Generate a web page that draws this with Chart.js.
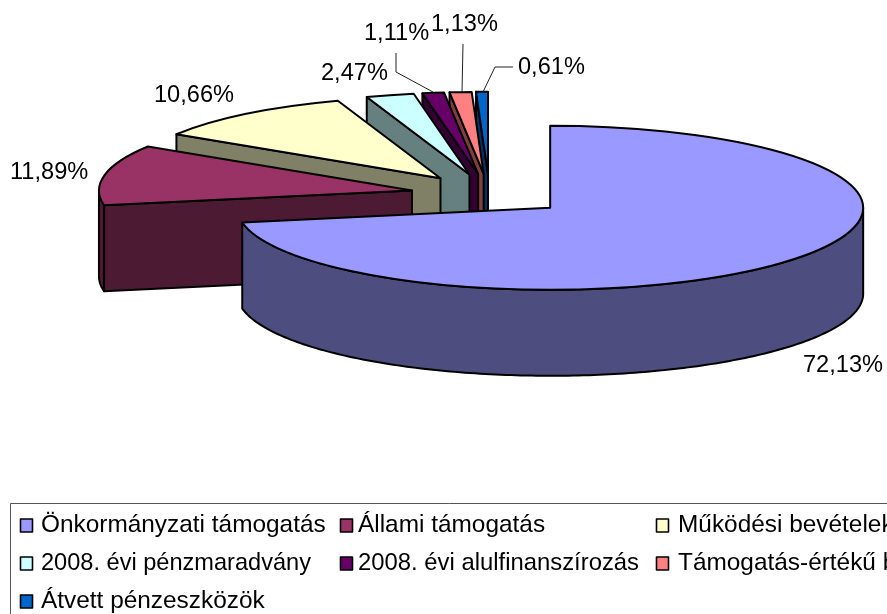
<!DOCTYPE html>
<html><head><meta charset="utf-8">
<style>html,body{margin:0;padding:0;background:#fff;overflow:hidden}canvas{display:block}</style>
<script src="https://cdn.jsdelivr.net/npm/chart.js@4"></script>
</head><body>
<canvas id="c" width="887" height="614"></canvas>
<script>
const categories = ["Önkormányzati támogatás","Állami támogatás","Működési bevételek","2008. évi pénzmaradvány","2008. évi alulfinanszírozás","Támogatás-értékű bevételek","Átvett pénzeszközök"];
const shares = [72.13,11.89,10.66,2.47,1.11,1.13,0.61];
const topColors = ["#9999FF","#993366","#FFFFCC","#CCFFFF","#660066","#FF8080","#0066CC"];
const wallColors = ["#4D4D80","#4D1A33","#808066","#668080","#330033","#804040","#003366"];

const FONT = '23.6px "Liberation Sans", Arial, sans-serif';
const LEGEND_FONT = '24.4px "Liberation Sans", Arial, sans-serif';
const SQUASH = 0.262, DEPTH = 86, EXPLODE = 79, RADIUS = 313;
const labelSpots = [[803,365],[10,172],[154,95],[321,73],[364,33],[431,24],[518,67]];
const leaders = [[[396,53],[396,72],[433,92]],[[463,44],[462,92]],[[513,67],[495,67],[483,92]]];
const legendCols = [[20,41],[340,358],[656,678]];
const legendRows = [525,563,601];
const legendTextFit = {3:270,4:281};
const TAU = Math.PI*2;

function sliceFrame(a){
  const mid=(a.startAngle+a.endAngle)/2;
  return {ax:a.x+Math.cos(mid)*EXPLODE, ay:a.y+Math.sin(mid)*EXPLODE*SQUASH};
}
function wallPath(ctx,pts,fill){
  ctx.beginPath();pts.forEach((p,i)=>i?ctx.lineTo(p[0],p[1]):ctx.moveTo(p[0],p[1]));ctx.closePath();
  ctx.fillStyle=fill;ctx.fill();ctx.stroke();
}
function drawSlice(ctx,a,i){
  const {ax,ay}=sliceFrame(a), r=a.outerRadius, s=a.startAngle, e=a.endAngle;
  const P=t=>[ax+r*Math.cos(t),ay+r*SQUASH*Math.sin(t)];
  ctx.strokeStyle="#000";ctx.lineWidth=2;ctx.lineJoin="round";
  const cut=t=>{const p=P(t);wallPath(ctx,[[ax,ay],p,[p[0],p[1]+DEPTH],[ax,ay+DEPTH]],wallColors[i]);};
  if(Math.cos(s)<0) cut(s);
  if(Math.cos(e)>0) cut(e);
  for(const [lo,hi] of [[0,Math.PI],[TAU,TAU+Math.PI]]){
    const a0=Math.max(s,lo),a1=Math.min(e,hi);
    if(a1>a0){
      const pts=[];const n=Math.max(4,Math.ceil((a1-a0)*60));
      for(let j=0;j<=n;j++)pts.push(P(a0+(a1-a0)*j/n));
      for(let j=n;j>=0;j--){const p=P(a0+(a1-a0)*j/n);pts.push([p[0],p[1]+DEPTH]);}
      wallPath(ctx,pts,wallColors[i]);
    }
  }
  ctx.save();
  ctx.translate(ax,ay);ctx.scale(1,SQUASH);ctx.translate(-a.x,-a.y);
  a.draw(ctx);
  ctx.beginPath();ctx.moveTo(a.x,a.y);ctx.arc(a.x,a.y,r,s,e);ctx.closePath();
  ctx.restore();
  ctx.stroke();
}
const pie3d={
  id:'pie3d',
  beforeDatasetDraw(chart,args){
    const ctx=chart.ctx,arcs=args.meta.data;
    for(let i=arcs.length-1;i>=0;i--)drawSlice(ctx,arcs[i],i);
    return false;
  },
  afterDraw(chart){
    const ctx=chart.ctx;
    ctx.save();
    ctx.strokeStyle="#222";ctx.lineWidth=1;
    leaders.forEach(l=>{ctx.beginPath();l.forEach((p,i)=>i?ctx.lineTo(p[0],p[1]):ctx.moveTo(p[0],p[1]));ctx.stroke();});
    ctx.fillStyle="#000";ctx.font=FONT;ctx.textBaseline="middle";ctx.textAlign="left";
    shares.forEach((v,i)=>ctx.fillText(v.toFixed(2).replace('.',',')+'%',labelSpots[i][0],labelSpots[i][1]));
    ctx.strokeStyle="#555";ctx.lineWidth=1;
    ctx.strokeRect(10.5,503.5,900,140);
    ctx.font=LEGEND_FONT;
    categories.forEach((c,i)=>{
      const col=legendCols[i%3],y=legendRows[Math.floor(i/3)];
      ctx.fillStyle=topColors[i];ctx.strokeStyle="#000";ctx.lineWidth=1.6;
      ctx.fillRect(col[0]+.5,y-6,12,13);ctx.strokeRect(col[0]+.5,y-6,12,13);
      ctx.fillStyle="#000";
      if(legendTextFit[i])ctx.fillText(c,col[1],y,legendTextFit[i]);else ctx.fillText(c,col[1],y);
    });
    ctx.restore();
  }
};
new Chart(document.getElementById('c'),{
  type:'pie',
  data:{labels:categories,datasets:[{data:shares,backgroundColor:topColors,borderWidth:0,radius:RADIUS,clip:false}]},
  options:{
    responsive:false,animation:false,devicePixelRatio:1,
    layout:{padding:{left:92,right:0,top:0,bottom:225}},
    plugins:{legend:{display:false},tooltip:{enabled:false}},
    events:[]
  },
  plugins:[pie3d]
});
</script>
</body></html>
